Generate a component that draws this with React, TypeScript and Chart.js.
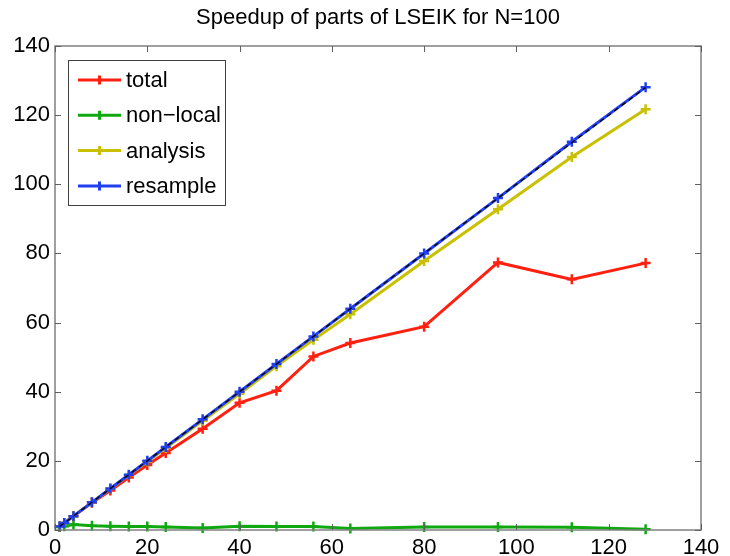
import React, { useEffect, useRef } from "react";
import { Chart, registerables } from "chart.js";

Chart.register(...registerables);

const titleText = "Speedup of parts of LSEIK for N=100";
const processors = [1, 2, 4, 8, 12, 16, 20, 24, 32, 40, 48, 56, 64, 80, 96, 112, 128];
const total = [1, 2, 4, 7.9, 11.4, 15.2, 18.8, 22.3, 29.3, 36.8, 40.3, 50.2, 54.1, 58.8, 77.4, 72.5, 77.2];
const nonLocal = [0.9, 1.1, 1.6, 1.2, 1.1, 1.0, 1.0, 0.9, 0.6, 1.1, 1.0, 1.0, 0.4, 0.9, 0.9, 0.8, 0.2];
const analysis = [1, 2, 4, 8, 11.9, 15.9, 19.8, 23.7, 31.6, 39.4, 47.4, 55, 62.4, 77.8, 92.8, 107.9, 121.7];
const resample = [1, 2, 4, 8, 12, 16, 20, 24, 32, 40, 48, 56, 64, 80, 96, 112.3, 128.1];
const ideal = [1, 2, 4, 8, 12, 16, 20, 24, 32, 40, 48, 56, 64, 80, 96, 112, 128];
const seriesNames = ["total", "non\u2212local", "analysis", "resample"];
const seriesColors = ["#ff2010", "#10a810", "#c8c000", "#2040f0"];
const axisTicks = [0, 20, 40, 60, 80, 100, 120, 140];

const FONT = '"Liberation Sans", Arial, Helvetica, sans-serif';

const pts = (ys: number[]) => processors.map((x, i) => ({ x, y: ys[i] }));

const matlabPlugin = {
  id: "matlabDecor",
  afterDraw(chart: any) {
    const ctx = chart.ctx;
    const { left, right, top, bottom } = chart.chartArea;
    const xs = chart.scales.x;
    const ys = chart.scales.y;
    ctx.save();
    // frame
    ctx.strokeStyle = "#808080";
    ctx.lineWidth = 1.5;
    ctx.strokeRect(left, top, right - left, bottom - top);
    // inward ticks
    ctx.strokeStyle = "#606060";
    ctx.lineWidth = 1;
    ctx.beginPath();
    axisTicks.forEach((v) => {
      const px = Math.round(xs.getPixelForValue(v)) + 0.5;
      ctx.moveTo(px, bottom);
      ctx.lineTo(px, bottom - 6);
      ctx.moveTo(px, top);
      ctx.lineTo(px, top + 6);
      const py = Math.round(ys.getPixelForValue(v)) + 0.5;
      ctx.moveTo(left, py);
      ctx.lineTo(left + 6, py);
      ctx.moveTo(right, py);
      ctx.lineTo(right - 6, py);
    });
    ctx.stroke();
    // title
    ctx.fillStyle = "#000";
    ctx.font = `22px ${FONT}`;
    ctx.textAlign = "center";
    ctx.textBaseline = "middle";
    ctx.fillText(titleText, (left + right) / 2, 18);
    // legend
    const lx = 68, ly = 60, lw = 157, lh = 145;
    ctx.fillStyle = "#fff";
    ctx.fillRect(lx, ly, lw, lh);
    ctx.strokeStyle = "#404040";
    ctx.lineWidth = 1;
    ctx.strokeRect(lx + 0.5, ly + 0.5, lw, lh);
    seriesNames.forEach((name, i) => {
      const cy = 80 + i * 35.3;
      ctx.strokeStyle = seriesColors[i];
      ctx.lineWidth = 3;
      ctx.beginPath();
      ctx.moveTo(78, cy);
      ctx.lineTo(121, cy);
      ctx.moveTo(99.5, cy - 4.5);
      ctx.lineTo(99.5, cy + 4.5);
      ctx.stroke();
      ctx.fillStyle = "#000";
      ctx.textAlign = "left";
      ctx.textBaseline = "middle";
      ctx.font = `22px ${FONT}`;
      ctx.fillText(name, 126, cy + 1);
    });
    ctx.restore();
  },
};

export default function App() {
  const ref = useRef<HTMLCanvasElement>(null);
  useEffect(() => {
    const canvas = ref.current!;
    const mk = (label: string, ys: number[], color: string, order: number) => ({
      label,
      data: pts(ys),
      borderColor: color,
      backgroundColor: color,
      borderWidth: 3,
      pointStyle: "cross",
      pointRadius: 5,
      pointBorderWidth: 2.5,
      pointBorderColor: color,
      tension: 0,
      clip: false,
      order,
    });
    const chart = new Chart(canvas, {
      type: "line",
      data: {
        datasets: [
          mk(seriesNames[0], total, seriesColors[0], 4),
          mk(seriesNames[1], nonLocal, seriesColors[1], 3),
          mk(seriesNames[2], analysis, seriesColors[2], 2),
          mk(seriesNames[3], resample, seriesColors[3], 1),
          {
            label: "ideal",
            data: pts(ideal),
            borderColor: "#000",
            borderWidth: 1.3,
            borderDash: [5, 4],
            pointRadius: 0,
            order: 0,
          } as any,
        ],
      },
      options: {
        responsive: false,
        animation: false,
        devicePixelRatio: 1,
        layout: { padding: { left: 0, right: 29, top: 46, bottom: 0 } },
        plugins: { legend: { display: false }, title: { display: false }, tooltip: { enabled: false } },
        scales: {
          x: {
            type: "linear",
            min: 0,
            max: 140,
            border: { display: false },
            grid: { display: false, drawTicks: false },
            ticks: { stepSize: 20, color: "#000", font: { size: 22, family: FONT }, padding: 5, maxRotation: 0 },
            afterFit: (s: any) => { s.height = 26; },
          },
          y: {
            min: 0,
            max: 140,
            border: { display: false },
            grid: { display: false, drawTicks: false },
            ticks: { stepSize: 20, color: "#000", font: { size: 22, family: FONT }, padding: 5 },
            afterFit: (s: any) => { s.width = 55; },
          },
        },
      },
      plugins: [matlabPlugin],
    } as any);
    return () => chart.destroy();
  }, []);
  return (
    <div style={{ position: "absolute", left: 0, top: 0, width: 730, height: 556, background: "#fff" }}>
      <canvas ref={ref} width={730} height={556} style={{ display: "block" }} />
    </div>
  );
}
